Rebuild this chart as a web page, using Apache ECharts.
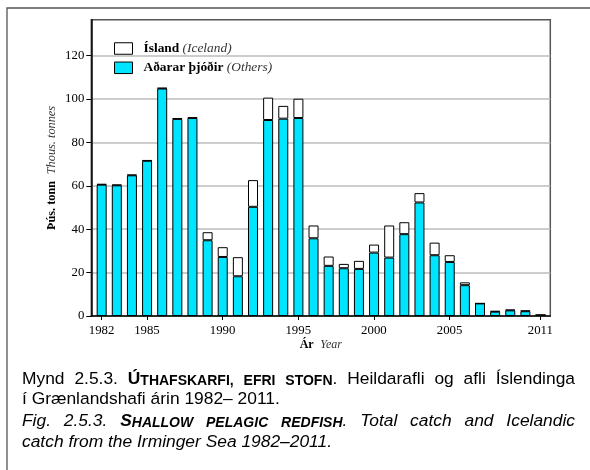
<!DOCTYPE html>
<html>
<head>
<meta charset="utf-8">
<script src="https://cdn.jsdelivr.net/npm/echarts@6/dist/echarts.min.js"></script>
<style>
  html, body { margin: 0; padding: 0; background: #fff; }
  #chart { width: 590px; height: 470px; }
</style>
</head>
<body>
<div id="chart"></div>
<script>
// Catch of shallow pelagic redfish in the Irminger Sea, thousand tonnes
const years = [1982, 1983, 1984, 1985, 1986, 1987, 1988, 1989, 1990, 1991,
               1992, 1993, 1994, 1995, 1996, 1997, 1998, 1999, 2000, 2001,
               2002, 2003, 2004, 2005, 2006, 2007, 2008, 2009, 2010, 2011];
const others = [60.5, 60.2, 64.8, 71.5, 104.8, 90.8, 91.2, 34.9, 27.2, 18.3,
                50.3, 90.3, 90.9, 91.2, 35.8, 23.1, 22.0, 21.7, 29.2, 26.9,
                37.7, 52.3, 28.0, 24.9, 14.2, 5.8, 2.0, 2.6, 2.2, 0.5];
const iceland = [0.3, 0.3, 0.3, 0.3, 0.3, 0.3, 0.3, 3.7, 4.5, 8.8,
                 12.3, 10.3, 5.9, 8.9, 5.9, 4.3, 2.0, 3.7, 3.7, 14.8,
                 5.5, 4.3, 5.8, 3.1, 1.3, 0.0, 0.3, 0.3, 0.3, 0.0];
const tickYears = [1982, 1985, 1990, 1995, 2000, 2005, 2011];
const yTicks = [0, 20, 40, 60, 80, 100, 120];

const serif = 'Liberation Serif';
const sans = 'Liberation Sans';
const CYAN = '#00e5ff';
const Y_MAX = 136.5;

// ---- caption layout (justified lines, small caps) ----
const CAP = 17.4;
const SC = 14;
const measureCtx = document.createElement('canvas').getContext('2d');
function segWidth(s) {
  measureCtx.font = (s.it ? 'italic ' : '') + (s.b ? 'bold ' : '') + s.size + 'px "' + sans + '"';
  return measureCtx.measureText(s.t).width;
}
function w(t, opts) { return [Object.assign({ t: t, size: CAP }, opts || {})]; }
function smallCaps(first, rest, opts) {
  return [Object.assign({ t: first, size: CAP }, opts), Object.assign({ t: rest, size: SC }, opts)];
}
const B = { b: true }, BI = { b: true, it: true }, I = { it: true };

const captionLines = [
  { base: 388, justify: true, words: [
      w('Mynd'), w('2.5.3.'), smallCaps('Ú', 'THAFSKARFI,', B), smallCaps('', 'EFRI', B),
      smallCaps('', 'STOFN', B).concat(w('.')), w('Heildarafli'), w('og'), w('afli'), w('Íslendinga')] },
  { base: 408, justify: false, words: [
      w('í'), w('Grænlandshafi'), w('árin'), w('1982–'), w('2011.')] },
  { base: 430, justify: true, words: [
      w('Fig.', I), w('2.5.3.', I), smallCaps('S', 'HALLOW', BI), smallCaps('', 'PELAGIC', BI),
      smallCaps('', 'REDFISH', BI).concat(w('.', I)), w('Total', I), w('catch', I), w('and', I), w('Icelandic', I)] },
  { base: 451, justify: false, words: [
      w('catch', I), w('from', I), w('the', I), w('Irminger', I), w('Sea', I), w('1982–2011.', I)] }
];

const capLeft = 22, capRight = 575;
const captionGraphics = [];
captionLines.forEach(function (line) {
  const widths = line.words.map(function (word) {
    return word.reduce(function (a, s) { return a + (s.t ? segWidth(s) : 0); }, 0);
  });
  const total = widths.reduce(function (a, b) { return a + b; }, 0);
  const space = segWidth({ t: ' ', size: CAP });
  const gap = line.justify ? (capRight - capLeft - total) / (line.words.length - 1) : space;
  let x = capLeft;
  line.words.forEach(function (word, wi) {
    const rich = {};
    let txt = '';
    word.forEach(function (s, si) {
      if (!s.t) return;
      const key = 's' + si;
      rich[key] = {
        fontFamily: sans, fontSize: s.size, fontWeight: s.b ? 'bold' : 'normal',
        fontStyle: s.it ? 'italic' : 'normal', fill: '#000', verticalAlign: 'bottom'
      };
      txt += '{' + key + '|' + s.t + '}';
    });
    captionGraphics.push({
      type: 'text', x: x, y: line.base, silent: true,
      style: { text: txt, rich: rich, fill: '#000', align: 'left', verticalAlign: 'bottom',
               font: CAP + 'px "' + sans + '"' }
    });
    x += widths[wi] + gap;
  });
});

const chart = echarts.init(document.getElementById('chart'), null, { renderer: 'canvas' });

const option = {
  backgroundColor: '#fff',
  animation: false,
  grid: [
    // frame, axes and gridlines
    { left: 91.3, top: 19.7, right: 39.7, bottom: 154,
      show: true, borderColor: '#555', borderWidth: 1.5, backgroundColor: 'transparent' },
    // band layout for the bars
    { left: 94.1, top: 19.7, right: 41.9, bottom: 154, show: false }
  ],
  legend: {
    data: ['Ísland', 'Aðarar þjóðir'],
    orient: 'vertical', left: 114, top: 42, padding: 0,
    itemWidth: 18, itemHeight: 11.5, itemGap: 6.3,
    icon: 'rect',
    itemStyle: { borderColor: '#000', borderWidth: 1 },
    formatter: function (name) {
      return name === 'Ísland' ? '{b|Ísland} {i|(Iceland)}' : '{b|Aðarar þjóðir} {i|(Others)}';
    },
    textStyle: {
      lineHeight: 12, padding: [0, 0, 0, 6],
      rich: {
        b: { fontFamily: serif, fontWeight: 'bold', fontSize: 13.4, color: '#000', lineHeight: 12 },
        i: { fontFamily: serif, fontStyle: 'italic', fontSize: 13.4, color: '#333', lineHeight: 12 }
      }
    }
  },
  xAxis: [
    {
      type: 'value', gridIndex: 0, min: 1981.32, max: 2011.66,
      splitLine: { show: false },
      axisLine: { show: true, onZero: false, lineStyle: { color: '#000', width: 1.5 } },
      axisTick: { show: true, customValues: tickYears, length: 4, lineStyle: { color: '#000', width: 1 } },
      axisLabel: {
        customValues: tickYears, formatter: function (v) { return String(v); },
        fontFamily: serif, fontSize: 12.8, color: '#000', margin: 8
      }
    },
    {
      type: 'category', gridIndex: 1, data: years, boundaryGap: true,
      axisLine: { show: false }, axisTick: { show: false }, axisLabel: { show: false },
      splitLine: { show: false }
    }
  ],
  yAxis: [
    {
      type: 'value', gridIndex: 0, min: 0, max: Y_MAX, interval: 20,
      splitLine: { show: true, lineStyle: { color: '#bdbdbd', width: 1.5 } },
      axisLine: { show: true, lineStyle: { color: '#000', width: 1.5 } },
      axisTick: { show: true, customValues: yTicks, length: 5, lineStyle: { color: '#000', width: 1 } },
      axisLabel: {
        customValues: yTicks, fontFamily: serif, fontSize: 12.8, color: '#000', margin: 7
      }
    },
    {
      type: 'value', gridIndex: 1, min: 0, max: Y_MAX, show: false,
      splitLine: { show: false }
    }
  ],
  series: [
    {
      name: 'Aðarar þjóðir', type: 'bar', stack: 'catch', barWidth: 10,
      xAxisIndex: 1, yAxisIndex: 1,
      data: others,
      itemStyle: { color: CYAN, borderColor: '#000', borderWidth: 1 }
    },
    {
      name: 'Ísland', type: 'bar', stack: 'catch', barWidth: 10,
      xAxisIndex: 1, yAxisIndex: 1,
      data: iceland,
      itemStyle: { color: '#fff', borderColor: '#000', borderWidth: 1 }
    }
  ],
  graphic: [
    {
      type: 'polyline', silent: true,
      shape: { points: [[7, 472], [7, 8], [592, 8]] },
      style: { stroke: '#555', lineWidth: 1.3, fill: null }
    },
    {
      type: 'text', x: 52, y: 168, rotation: Math.PI / 2, silent: true,
      style: {
        text: '{b|Þús. tonn}  {i|Thous. tonnes}',
        align: 'center', verticalAlign: 'middle',
        rich: {
          b: { fontFamily: serif, fontWeight: 'bold', fontSize: 12.3, fill: '#000' },
          i: { fontFamily: serif, fontStyle: 'italic', fontSize: 12.3, fill: '#333' }
        }
      }
    },
    {
      type: 'text', x: 320.8, y: 345, silent: true,
      style: {
        text: '{b|Ár}  {i|Year}',
        align: 'center', verticalAlign: 'middle',
        rich: {
          b: { fontFamily: serif, fontWeight: 'bold', fontSize: 12, fill: '#000' },
          i: { fontFamily: serif, fontStyle: 'italic', fontSize: 12, fill: '#333' }
        }
      }
    }
  ].concat(captionGraphics)
};

chart.setOption(option);
</script>
</body>
</html>
